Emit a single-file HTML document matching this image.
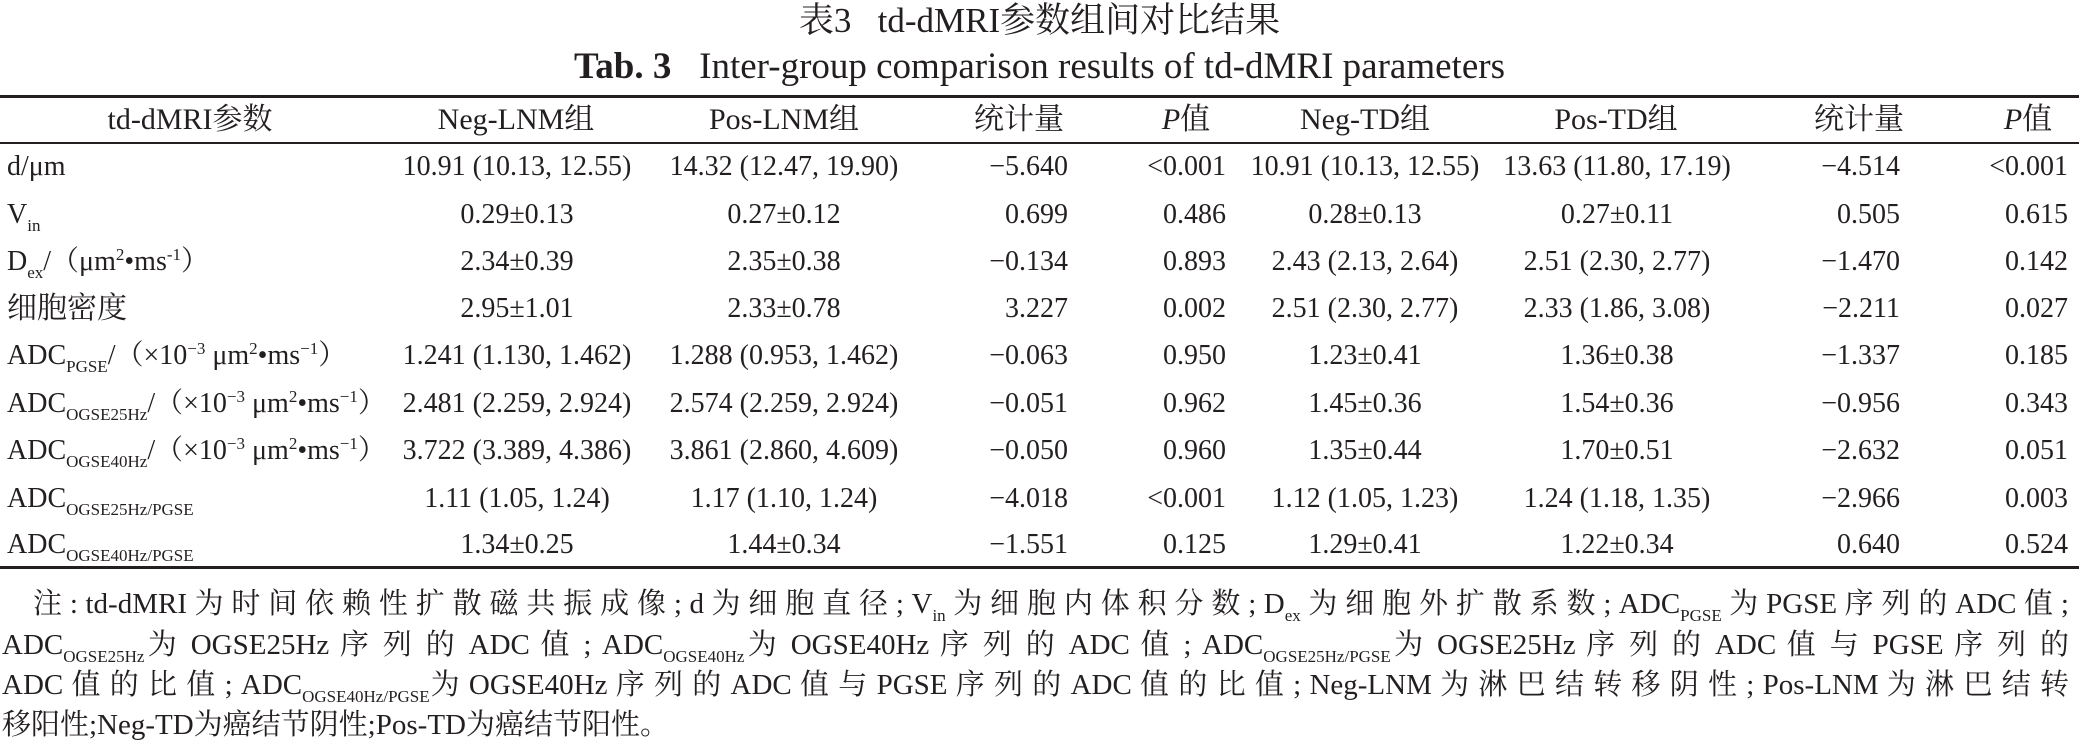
<!DOCTYPE html>
<html><head><meta charset="utf-8"><style>
html,body{margin:0;padding:0;background:#fff;}
body{width:2079px;height:750px;position:relative;overflow:hidden;color:#231f20;font-family:"Liberation Serif","Noto Serif CJK SC","Noto Sans CJK SC",serif;}
.row{position:absolute;left:0;width:2079px;height:36px;line-height:36px;font-size:28px;white-space:nowrap;}
.l,.c,.r{position:absolute;top:0;}
.c{width:400px;text-align:center;}
.r{text-align:right;}
.s{display:inline-block;}
.hd{font-size:30px;}
sub{font-size:17px;vertical-align:-8px;line-height:0;}
sup{font-size:17px;vertical-align:10px;line-height:0;}
.rule{position:absolute;left:0;width:2079px;background:#231f20;}
.note{position:absolute;height:40px;line-height:40px;font-size:29px;white-space:nowrap;text-align:justify;text-align-last:justify;}
.note sub{font-size:17px;vertical-align:-8px;}
</style></head><body>
<div class="row" style="top:0px;font-size:35px;text-align:center;height:42px;line-height:42px;">表3&nbsp;&nbsp;&nbsp;td-dMRI参数组间对比结果</div>
<div class="row" style="top:46px;font-size:37px;text-align:center;height:42px;line-height:42px;"><b>Tab. 3</b>&nbsp;&nbsp;&nbsp;Inter-group comparison results of td-dMRI parameters</div>
<div class="rule" style="top:95px;height:3px;"></div>
<div class="rule" style="top:142px;height:2px;"></div>
<div class="rule" style="top:566px;height:3px;"></div>

<div class="row hd" style="top:102px"><div class="c" style="left:-10px"><span class="s">td-dMRI参数</span></div><div class="c" style="left:316px"><span class="s">Neg-LNM组</span></div><div class="c" style="left:584px"><span class="s">Pos-LNM组</span></div><div class="c" style="left:819px"><span class="s">统计量</span></div><div class="c" style="left:986px"><span class="s"><i>P</i>值</span></div><div class="c" style="left:1165px"><span class="s">Neg-TD组</span></div><div class="c" style="left:1416px"><span class="s">Pos-TD组</span></div><div class="c" style="left:1659px"><span class="s">统计量</span></div><div class="c" style="left:1828px"><span class="s"><i>P</i>值</span></div></div>

<div class="row" style="top:149px"><div class="l" style="left:7px"><span class="s">d/μm</span></div><div class="c" style="left:317px"><span class="s">10.91 (10.13, 12.55)</span></div><div class="c" style="left:584px"><span class="s">14.32 (12.47, 19.90)</span></div><div class="r" style="right:1011px"><span class="s">−5.640</span></div><div class="r" style="right:853px"><span class="s">&lt;0.001</span></div><div class="c" style="left:1165px"><span class="s">10.91 (10.13, 12.55)</span></div><div class="c" style="left:1417px"><span class="s">13.63 (11.80, 17.19)</span></div><div class="r" style="right:179px"><span class="s">−4.514</span></div><div class="r" style="right:11px"><span class="s">&lt;0.001</span></div></div>

<div class="row" style="top:197px"><div class="l" style="left:7px"><span class="s">V<sub>in</sub></span></div><div class="c" style="left:317px"><span class="s">0.29±0.13</span></div><div class="c" style="left:584px"><span class="s">0.27±0.12</span></div><div class="r" style="right:1011px"><span class="s">0.699</span></div><div class="r" style="right:853px"><span class="s">0.486</span></div><div class="c" style="left:1165px"><span class="s">0.28±0.13</span></div><div class="c" style="left:1417px"><span class="s">0.27±0.11</span></div><div class="r" style="right:179px"><span class="s">0.505</span></div><div class="r" style="right:11px"><span class="s">0.615</span></div></div>

<div class="row" style="top:244px"><div class="l" style="left:7px"><span class="s">D<sub>ex</sub>/（μm<sup>2</sup>•ms<sup>-1</sup>）</span></div><div class="c" style="left:317px"><span class="s">2.34±0.39</span></div><div class="c" style="left:584px"><span class="s">2.35±0.38</span></div><div class="r" style="right:1011px"><span class="s">−0.134</span></div><div class="r" style="right:853px"><span class="s">0.893</span></div><div class="c" style="left:1165px"><span class="s">2.43 (2.13, 2.64)</span></div><div class="c" style="left:1417px"><span class="s">2.51 (2.30, 2.77)</span></div><div class="r" style="right:179px"><span class="s">−1.470</span></div><div class="r" style="right:11px"><span class="s">0.142</span></div></div>

<div class="row" style="top:291px"><div class="l" style="left:7px"><span class="s" style="font-size:30px">细胞密度</span></div><div class="c" style="left:317px"><span class="s">2.95±1.01</span></div><div class="c" style="left:584px"><span class="s">2.33±0.78</span></div><div class="r" style="right:1011px"><span class="s">3.227</span></div><div class="r" style="right:853px"><span class="s">0.002</span></div><div class="c" style="left:1165px"><span class="s">2.51 (2.30, 2.77)</span></div><div class="c" style="left:1417px"><span class="s">2.33 (1.86, 3.08)</span></div><div class="r" style="right:179px"><span class="s">−2.211</span></div><div class="r" style="right:11px"><span class="s">0.027</span></div></div>

<div class="row" style="top:338px"><div class="l" style="left:7px"><span class="s">ADC<sub>PGSE</sub>/（×10<sup>−3</sup> μm<sup>2</sup>•ms<sup>−1</sup>）</span></div><div class="c" style="left:317px"><span class="s">1.241 (1.130, 1.462)</span></div><div class="c" style="left:584px"><span class="s">1.288 (0.953, 1.462)</span></div><div class="r" style="right:1011px"><span class="s">−0.063</span></div><div class="r" style="right:853px"><span class="s">0.950</span></div><div class="c" style="left:1165px"><span class="s">1.23±0.41</span></div><div class="c" style="left:1417px"><span class="s">1.36±0.38</span></div><div class="r" style="right:179px"><span class="s">−1.337</span></div><div class="r" style="right:11px"><span class="s">0.185</span></div></div>

<div class="row" style="top:386px"><div class="l" style="left:7px"><span class="s">ADC<sub>OGSE25Hz</sub>/（×10<sup>−3</sup> μm<sup>2</sup>•ms<sup>−1</sup>）</span></div><div class="c" style="left:317px"><span class="s">2.481 (2.259, 2.924)</span></div><div class="c" style="left:584px"><span class="s">2.574 (2.259, 2.924)</span></div><div class="r" style="right:1011px"><span class="s">−0.051</span></div><div class="r" style="right:853px"><span class="s">0.962</span></div><div class="c" style="left:1165px"><span class="s">1.45±0.36</span></div><div class="c" style="left:1417px"><span class="s">1.54±0.36</span></div><div class="r" style="right:179px"><span class="s">−0.956</span></div><div class="r" style="right:11px"><span class="s">0.343</span></div></div>

<div class="row" style="top:433px"><div class="l" style="left:7px"><span class="s">ADC<sub>OGSE40Hz</sub>/（×10<sup>−3</sup> μm<sup>2</sup>•ms<sup>−1</sup>）</span></div><div class="c" style="left:317px"><span class="s">3.722 (3.389, 4.386)</span></div><div class="c" style="left:584px"><span class="s">3.861 (2.860, 4.609)</span></div><div class="r" style="right:1011px"><span class="s">−0.050</span></div><div class="r" style="right:853px"><span class="s">0.960</span></div><div class="c" style="left:1165px"><span class="s">1.35±0.44</span></div><div class="c" style="left:1417px"><span class="s">1.70±0.51</span></div><div class="r" style="right:179px"><span class="s">−2.632</span></div><div class="r" style="right:11px"><span class="s">0.051</span></div></div>

<div class="row" style="top:481px"><div class="l" style="left:7px"><span class="s">ADC<sub>OGSE25Hz/PGSE</sub></span></div><div class="c" style="left:317px"><span class="s">1.11 (1.05, 1.24)</span></div><div class="c" style="left:584px"><span class="s">1.17 (1.10, 1.24)</span></div><div class="r" style="right:1011px"><span class="s">−4.018</span></div><div class="r" style="right:853px"><span class="s">&lt;0.001</span></div><div class="c" style="left:1165px"><span class="s">1.12 (1.05, 1.23)</span></div><div class="c" style="left:1417px"><span class="s">1.24 (1.18, 1.35)</span></div><div class="r" style="right:179px"><span class="s">−2.966</span></div><div class="r" style="right:11px"><span class="s">0.003</span></div></div>

<div class="row" style="top:527px"><div class="l" style="left:7px"><span class="s">ADC<sub>OGSE40Hz/PGSE</sub></span></div><div class="c" style="left:317px"><span class="s">1.34±0.25</span></div><div class="c" style="left:584px"><span class="s">1.44±0.34</span></div><div class="r" style="right:1011px"><span class="s">−1.551</span></div><div class="r" style="right:853px"><span class="s">0.125</span></div><div class="c" style="left:1165px"><span class="s">1.29±0.41</span></div><div class="c" style="left:1417px"><span class="s">1.22±0.34</span></div><div class="r" style="right:179px"><span class="s">0.640</span></div><div class="r" style="right:11px"><span class="s">0.524</span></div></div>

<div class="note" style="top:584px;left:33px;width:2036px;">注 : td-dMRI 为 时 间 依 赖 性 扩 散 磁 共 振 成 像 ; d 为 细 胞 直 径 ; V<sub>in</sub> 为 细 胞 内 体 积 分 数 ; D<sub>ex</sub> 为 细 胞 外 扩 散 系 数 ; ADC<sub>PGSE</sub> 为 PGSE 序 列 的 ADC 值 ;</div>
<div class="note" style="top:625px;left:2px;width:2067px;">ADC<sub>OGSE25Hz</sub>为 OGSE25Hz 序 列 的 ADC 值 ; ADC<sub>OGSE40Hz</sub>为 OGSE40Hz 序 列 的 ADC 值 ; ADC<sub>OGSE25Hz/PGSE</sub>为 OGSE25Hz 序 列 的 ADC 值 与 PGSE 序 列 的</div>
<div class="note" style="top:665px;left:2px;width:2067px;">ADC 值 的 比 值 ; ADC<sub>OGSE40Hz/PGSE</sub>为 OGSE40Hz 序 列 的 ADC 值 与 PGSE 序 列 的 ADC 值 的 比 值 ; Neg-LNM 为 淋 巴 结 转 移 阴 性 ; Pos-LNM 为 淋 巴 结 转</div>
<div class="note" style="top:705px;left:2px;text-align-last:left;">移阳性;Neg-TD为癌结节阴性;Pos-TD为癌结节阳性。</div>
</body></html>
